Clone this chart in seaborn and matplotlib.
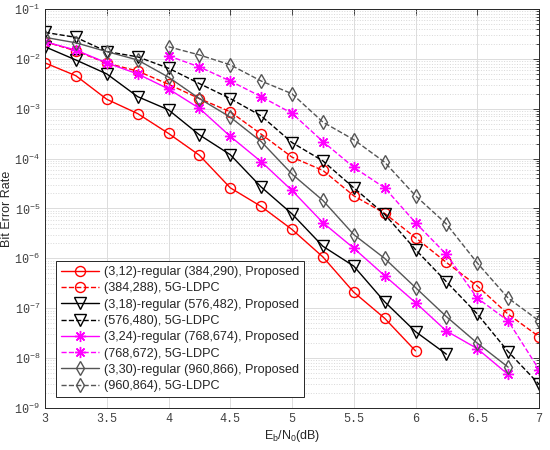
import numpy as np
import pandas as pd
import matplotlib
matplotlib.use("Agg")
import matplotlib.pyplot as plt
import seaborn as sns
from matplotlib.ticker import LogLocator, NullFormatter, FixedLocator, FixedFormatter

# ---------------- data ----------------
ebn0_full = [3, 3.25, 3.5, 3.75, 4, 4.25, 4.5, 4.75, 5, 5.25, 5.5, 5.75, 6, 6.25, 6.5, 6.75, 7]

x_384_prop = ebn0_full[:13]
ber_384_prop = [8.3e-3, 4.6e-3, 1.55e-3, 8e-4, 3.2e-4, 1.17e-4, 2.6e-5, 1.1e-5, 3.8e-6,
                1.07e-6, 2.1e-7, 6.3e-8, 1.4e-8]
x_384_5g = ebn0_full
ber_384_5g = [2.2e-2, 1.45e-2, 8.2e-3, 5.7e-3, 3.1e-3, 1.6e-3, 8.7e-4, 3.1e-4, 1.07e-4,
              5.8e-5, 1.8e-5, 8e-6, 2.6e-6, 8.3e-7, 2.8e-7, 7.6e-8, 2.7e-8]

x_576_prop = ebn0_full[:14]
ber_576_prop = [1.75e-2, 9.5e-3, 5e-3, 1.75e-3, 9.5e-4, 3e-4, 1.2e-4, 2.7e-5, 7.8e-6,
                1.75e-6, 7e-7, 1.35e-7, 3.4e-8, 1.2e-8]
x_576_5g = ebn0_full
ber_576_5g = [3.4e-2, 2.7e-2, 1.4e-2, 1.1e-2, 6.5e-3, 3.2e-3, 1.6e-3, 7.2e-4, 2.1e-4,
              9e-5, 2.6e-5, 7.7e-6, 1.5e-6, 3.4e-7, 7.7e-8, 1.35e-8, 3e-9]

x_768_prop = ebn0_full[:16]
ber_768_prop = [2.2e-2, 1.5e-2, 8.3e-3, 5e-3, 2.5e-3, 1.02e-3, 2.8e-4, 8.7e-5, 2.3e-5,
                5.2e-6, 1.6e-6, 4.5e-7, 1.3e-7, 3.5e-8, 1.55e-8, 4.7e-9]
x_768_5g = ebn0_full[4:]
ber_768_5g = [1.15e-2, 6.9e-3, 3.6e-3, 1.75e-3, 8.1e-4, 2.2e-4, 6.7e-5, 2.6e-5, 5.2e-6,
              1.2e-6, 1.6e-7, 5.6e-8, 5.9e-9]

x_960_prop = ebn0_full[:16]
ber_960_prop = [2.7e-2, 2.1e-2, 1.4e-2, 9.5e-3, 4.3e-3, 1.6e-3, 6.8e-4, 2.2e-4, 4.9e-5,
                1.45e-5, 3e-6, 1e-6, 2.6e-7, 6.8e-8, 2e-8, 6.6e-9]
x_960_5g = ebn0_full[4:]
ber_960_5g = [1.75e-2, 1.2e-2, 7.6e-3, 3.6e-3, 2e-3, 5.4e-4, 2.4e-4, 8.5e-5, 1.8e-5,
              4.9e-6, 8.1e-7, 1.6e-7, 5.6e-8]

labels = ["(3,12)-regular (384,290), Proposed", "(384,288), 5G-LDPC",
          "(3,18)-regular (576,482), Proposed", "(576,480), 5G-LDPC",
          "(3,24)-regular (768,674), Proposed", "(768,672), 5G-LDPC",
          "(3,30)-regular (960,866), Proposed", "(960,864), 5G-LDPC"]

xtick_vals = [3, 3.5, 4, 4.5, 5, 5.5, 6, 6.5, 7]
xtick_labels = ["3", "3.5", "4", "4.5", "5", "5.5", "6", "6.5", "7"]
ytick_exps = [-9, -8, -7, -6, -5, -4, -3, -2, -1]

xlabel = r"$\mathdefault{E_b/N_0(dB)}$"
ylabel = "Bit Error Rate"

# ---------------- style ----------------
sns.set_theme(style="white")
plt.rcParams["font.family"] = ["Liberation Sans", "DejaVu Sans"]

series = [
    (x_384_prop, ber_384_prop, "red", "-", "o", 7.2),
    (x_384_5g, ber_384_5g, "red", "--", "o", 7.2),
    (x_576_prop, ber_576_prop, "black", "-", "v", 8.3),
    (x_576_5g, ber_576_5g, "black", "--", "v", 8.3),
    (x_768_prop, ber_768_prop, "#ff00ff", "-", (8, 2, 0), 8),
    (x_768_5g, ber_768_5g, "#ff00ff", "--", (8, 2, 0), 8),
    (x_960_prop, ber_960_prop, "#555555", "-", "d", 7.6),
    (x_960_5g, ber_960_5g, "#555555", "--", "d", 7.6),
]

fig = plt.figure(figsize=(5.5, 4.5), dpi=100)
ax = fig.add_axes([45 / 550, 1 - 408 / 450, 494 / 550, 399 / 450])

for (xs, ys, col, ls, mk, ms), lab in zip(series, labels):
    df = pd.DataFrame({"x": xs, "y": ys})
    sns.lineplot(data=df, x="x", y="y", ax=ax, color=col, linestyle=ls, marker=mk,
                 markersize=ms, markerfacecolor="none", markeredgecolor=col,
                 markeredgewidth=1.0, linewidth=1.0, label=lab,
                 dashes=(4, 3) if ls == "--" else None, estimator=None)

ax.set_yscale("log")
ax.xaxis.set_major_locator(FixedLocator(xtick_vals))
ax.xaxis.set_major_formatter(FixedFormatter(xtick_labels))
ax.yaxis.set_major_locator(FixedLocator([10.0 ** e for e in ytick_exps]))
ax.yaxis.set_major_formatter(FixedFormatter([r"$\mathdefault{10^{%d}}$" % e for e in ytick_exps]))
ax.yaxis.set_minor_locator(LogLocator(base=10, subs=np.arange(2, 10), numticks=20))
ax.yaxis.set_minor_formatter(NullFormatter())
ax.set_xlim(3, 7)
ax.set_ylim(1e-9, 1e-1)

ax.grid(True, which="major", color="#dcdcdc", linestyle="-", linewidth=0.7)
ax.grid(True, which="minor", axis="y", color="#d8d8d8", linestyle=":", linewidth=0.7)
ax.set_axisbelow(True)

for sp in ax.spines.values():
    sp.set_color("#262626")
    sp.set_linewidth(0.7)
ax.tick_params(which="both", direction="in", top=True, right=True, colors="#262626",
               labelcolor="#404040", width=0.6)
ax.tick_params(which="major", length=4)
ax.tick_params(which="minor", length=2.5)
for lbl in ax.get_xticklabels() + ax.get_yticklabels():
    lbl.set_fontfamily(["Liberation Mono", "DejaVu Sans Mono"])
    lbl.set_fontsize(8.5)

ax.set_xlabel(xlabel, fontsize=9, color="#262626", labelpad=2)
ax.set_ylabel(ylabel, fontsize=9, color="#262626", labelpad=1)

leg = ax.legend(loc="lower left", bbox_to_anchor=(0.022, 0.027), borderaxespad=0,
                fontsize=9.1, handlelength=3.0, labelspacing=0.34, handletextpad=0.4,
                borderpad=0.4, fancybox=False, framealpha=1, edgecolor="#262626")
leg.get_frame().set_linewidth(0.7)

fig.savefig("out.png", dpi=100)
